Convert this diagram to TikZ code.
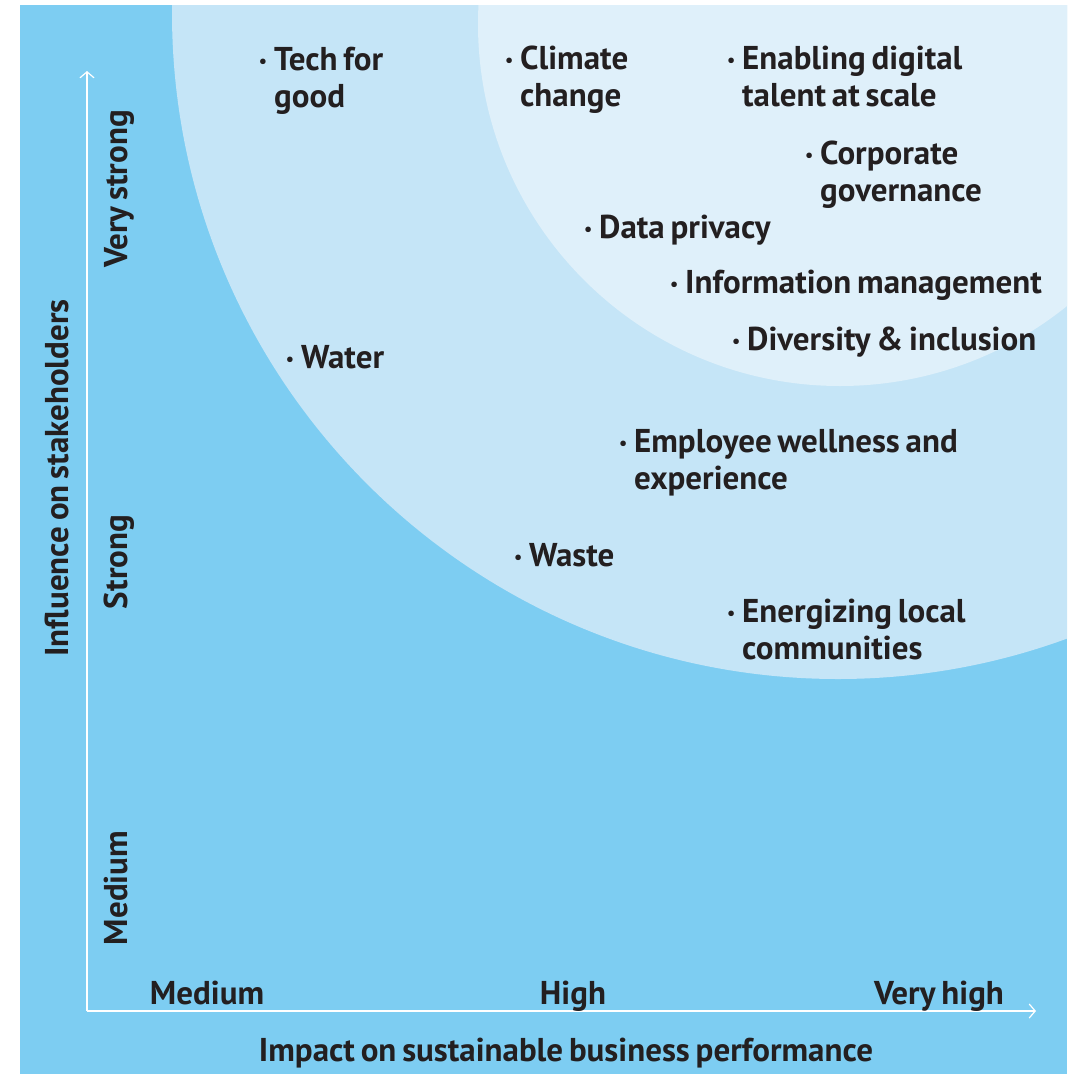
\documentclass[tikz,border=0pt]{standalone}
\usepackage{fontspec}
\setmainfont{PT Sans}[WordSpace=0.7]
\usetikzlibrary{arrows.meta}
\definecolor{bgblue}{RGB}{125,205,242}
\definecolor{midblue}{RGB}{197,229,247}
\definecolor{lightblue}{RGB}{223,240,250}
\definecolor{ink}{RGB}{35,31,32}
\newcommand{\bul}{\llap{\raisebox{3pt}{\scalebox{0.55}{\textbullet}}\hspace{7pt}}}
\newcommand{\twolines}[2]{\vtop{\baselineskip=37pt\hbox{\bul #1}\hbox{#2}}}
\tikzset{
  item/.style={anchor=base west, inner sep=0pt, text=ink, font=\fontsize{33}{37}\selectfont\bfseries},
  lab/.style={anchor=base, inner sep=0pt, text=ink, font=\fontsize{33}{37}\selectfont\bfseries},
  axisline/.style={white, line width=1.2pt, -{Straight Barb[length=6pt,width=14pt]}}
}
\begin{document}
\begin{tikzpicture}[x=1pt,y=-1pt]
\useasboundingbox (0,0) rectangle (1068,1074);
\fill[bgblue] (20,5) rectangle (1067,1074);
\begin{scope}
  \clip (20,5) rectangle (1067,1074);
  \fill[midblue] (838,13) circle (666);
  \fill[lightblue] (840,24) circle (362);
\end{scope}
% axes
\coordinate (O) at (87,1011);
\coordinate (ytip) at (87,71);
\coordinate (xtip) at (1036,1011);
\draw[axisline] (O) -- (ytip);
\draw[axisline] (O) -- (xtip);
% items
\node[item] (tech) at (274,70) {\twolines{Tech for}{good}};
\node[item] (climate) at (520,69) {\twolines{Climate}{change}};
\node[item] (digital) at (742,69) {\twolines{Enabling digital}{talent at scale}};
\node[item] (corp) at (820,164) {\twolines{Corporate}{governance}};
\node[item] (data) at (599,238) {\bul Data privacy};
\node[item] (info) at (685,293) {\bul Information management};
\node[item] (div) at (747,350) {\bul Diversity \& inclusion};
\node[item] (water) at (301,368) {\bul Water};
\node[item] (empl) at (634,452) {\twolines{Employee wellness and}{experience}};
\node[item] (waste) at (529,566) {\bul Waste};
\node[item] (energy) at (742,622) {\twolines{Energizing local}{communities}};
% axis labels
\node[lab] (xmed) at (207,1004) {Medium};
\node[lab] (xhigh) at (573,1004) {High};
\node[lab] (xvh) at (939,1004) {Very high};
\node[lab] (xtitle) at (566,1061) {Impact on sustainable business performance};
\node[lab, rotate=90] (ytitle) at (68,478) {Influence on stakeholders};
\node[lab, rotate=90] (yvs) at (127,189) {Very strong};
\node[lab, rotate=90] (ystr) at (127,562) {Strong};
\node[lab, rotate=90] (ymed) at (127,888) {Medium};
\end{tikzpicture}
\end{document}
